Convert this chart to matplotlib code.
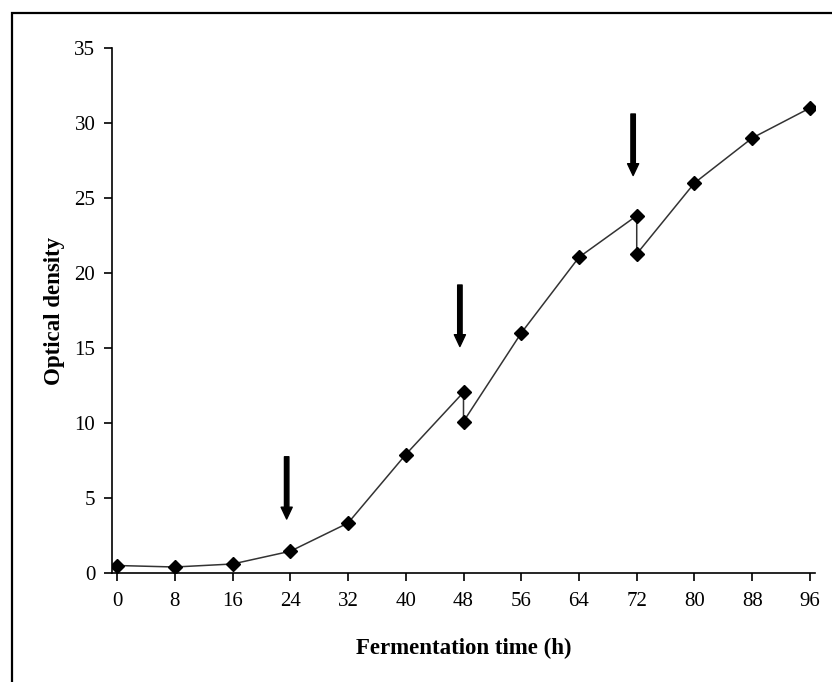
import numpy as np
import matplotlib.pyplot as plt
from matplotlib.patches import Rectangle

# dados
tempo = [0, 8, 16, 24, 32, 40, 48, 48, 56, 64, 72, 72, 80, 88, 96]
densidade = [0.5, 0.4, 0.6, 1.45, 3.33, 7.9, 12.05, 10.1, 16.0, 21.05, 23.82, 21.27, 26.0, 29.0, 31.0]

# setas indicando as adicoes
seta_x = [24, 48, 72]
seta_topo = [7.75, 19.2, 30.6]
seta_ponta = [3.6, 15.1, 26.5]

xticks = [0, 8, 16, 24, 32, 40, 48, 56, 64, 72, 80, 88, 96]
yticks = [0, 5, 10, 15, 20, 25, 30, 35]

plt.rcParams['font.family'] = ['Liberation Serif', 'DejaVu Serif']

fig = plt.figure(figsize=(8.32, 6.82), dpi=100)
fig.patches.append(Rectangle((12 / 832, -0.1), 1.0, (682 - 13) / 682 + 0.1,
                             transform=fig.transFigure, fill=False,
                             edgecolor='black', linewidth=1.6))

ax = fig.add_axes([112 / 832, (682 - 573) / 682, (815 - 112) / 832, (573 - 48) / 682])

ax.plot(tempo, densidade, color='#333333', linewidth=1.1, marker='D',
        markersize=7.5, markerfacecolor='black', markeredgecolor='black')

for x, y0, y1 in zip(seta_x, seta_topo, seta_ponta):
    ax.annotate('', xy=(x - 0.5, y1), xytext=(x - 0.5, y0),
                arrowprops=dict(arrowstyle='simple,head_width=0.8,head_length=0.85,tail_width=0.32',
                                color='black', shrinkA=0, shrinkB=0))

ax.set_xlim(-0.7, 96.7)
ax.set_ylim(0, 35)
ax.set_xticks(xticks)
ax.set_yticks(yticks)
ax.spines['top'].set_visible(False)
ax.spines['right'].set_visible(False)
ax.spines['left'].set_linewidth(1.2)
ax.spines['bottom'].set_linewidth(1.2)
ax.tick_params(axis='both', direction='out', length=6, width=1.2, labelsize=15, pad=6)
ax.tick_params(axis='x', pad=8)

ax.set_xlabel('Fermentation time (h)', fontsize=16.5, fontweight='bold', labelpad=19)
ax.set_ylabel('Optical density', fontsize=16.5, fontweight='bold', labelpad=7)

fig.savefig('out.png', dpi=100)
